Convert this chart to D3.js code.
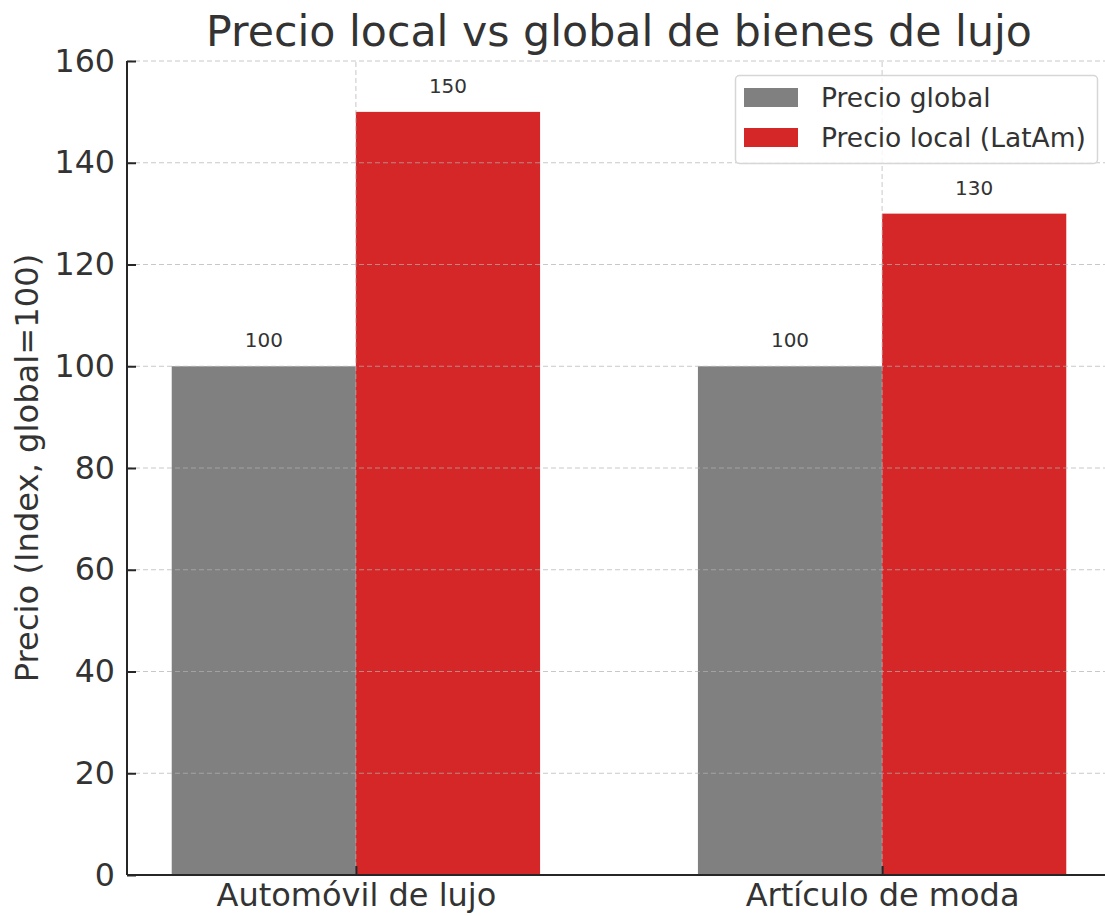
<!DOCTYPE html>
<html>
<head>
<meta charset="utf-8">
<script src="https://cdn.jsdelivr.net/npm/d3@7"></script>
<style>
  html, body { margin: 0; padding: 0; background: #fff; }
  svg { display: block; font-family: "DejaVu Sans", sans-serif; }
</style>
</head>
<body>
<svg id="chart" width="1105" height="916"></svg>
<script>
// Product categories and the two price series (index, global = 100)
const categories = ["Automóvil de lujo", "Artículo de moda"];
const seriesNames = ["Precio global", "Precio local (LatAm)"];
const globalPrices = [100, 100];
const localPrices = [150, 130];
const yTicks = [0, 20, 40, 60, 80, 100, 120, 140, 160];
const colors = ["#808080", "#d62728"];

const W = 1105, H = 916;
const margin = { left: 127, right: -6, top: 61, bottom: 41 };
const svg = d3.select("#chart");

const textColor = "#333333";
const axisColor = "#262626";

// Numeric x positions: category i sits at i, bars have width 0.35
const barW = 0.35;
const x = d3.scaleLinear()
  .domain([-0.435, categories.length - 1 + 0.435])
  .range([margin.left, W - margin.right]);
const y = d3.scaleLinear()
  .domain([0, 160])
  .range([H - margin.bottom, margin.top]);

const series = [globalPrices, localPrices];

// Bars: global to the left of the category centre, local to the right
series.forEach((vals, s) => {
  svg.append("g")
    .selectAll("rect")
    .data(vals)
    .join("rect")
    .attr("x", (d, i) => x(i + (s === 0 ? -barW : 0)))
    .attr("width", x(barW) - x(0))
    .attr("y", d => y(d))
    .attr("height", d => y(0) - y(d))
    .attr("fill", colors[s]);

  // Value labels above each bar
  svg.append("g")
    .selectAll("text")
    .data(vals)
    .join("text")
    .attr("x", (d, i) => x(i + (s === 0 ? -barW / 2 : barW / 2)))
    .attr("y", d => y(d) - 19)
    .attr("text-anchor", "middle")
    .attr("font-size", 20)
    .attr("fill", textColor)
    .text(d => d);
});

// Dashed grid drawn over the bars
const grid = svg.append("g")
  .attr("stroke", "#b0b0b0")
  .attr("stroke-opacity", 0.7)
  .attr("stroke-width", 1)
  .attr("stroke-dasharray", "5,3");
grid.selectAll("line.h")
  .data(yTicks)
  .join("line")
  .attr("class", "h")
  .attr("x1", x.range()[0]).attr("x2", x.range()[1])
  .attr("y1", d => y(d)).attr("y2", d => y(d));
grid.selectAll("line.v")
  .data(categories.map((c, i) => i))
  .join("line")
  .attr("class", "v")
  .attr("x1", d => x(d)).attr("x2", d => x(d))
  .attr("y1", y.range()[0]).attr("y2", y.range()[1]);

// Y axis with inward ticks
const yAxis = svg.append("g")
  .attr("transform", `translate(${margin.left},0)`)
  .call(d3.axisLeft(y).tickValues(yTicks).tickSize(-9).tickPadding(12));
yAxis.select(".domain").attr("stroke", axisColor).attr("stroke-width", 2)
  .attr("d", `M0,${y(0)}V${y(160)}`);
yAxis.selectAll(".tick line").attr("stroke", axisColor).attr("stroke-width", 2);
yAxis.selectAll(".tick text")
  .attr("font-size", 31.7).attr("fill", textColor)
  .attr("font-family", "DejaVu Sans");

// X axis with category labels
const xAxis = svg.append("g")
  .attr("transform", `translate(0,${y(0)})`)
  .call(d3.axisBottom(x)
    .tickValues(categories.map((c, i) => i))
    .tickFormat(i => categories[i])
    .tickSize(-9).tickPadding(8));
xAxis.select(".domain").attr("stroke", axisColor).attr("stroke-width", 2)
  .attr("d", `M${x.range()[0]},0H${x.range()[1]}`);
xAxis.selectAll(".tick line").attr("stroke", axisColor).attr("stroke-width", 2);
xAxis.selectAll(".tick text")
  .attr("font-size", 32).attr("fill", textColor)
  .attr("font-family", "DejaVu Sans");

// Title
svg.append("text")
  .attr("x", 619).attr("y", 46)
  .attr("text-anchor", "middle")
  .attr("font-size", 42.7)
  .attr("fill", textColor)
  .text("Precio local vs global de bienes de lujo");

// Y axis title
svg.append("text")
  .attr("transform", `translate(38,${(y(0) + y(160)) / 2}) rotate(-90)`)
  .attr("text-anchor", "middle")
  .attr("font-size", 32.2)
  .attr("fill", textColor)
  .text("Precio (Index, global=100)");

// Legend
const legend = svg.append("g").attr("transform", "translate(735,75)");
legend.append("rect")
  .attr("x", 0.5).attr("y", 0.5).attr("width", 362).attr("height", 88)
  .attr("rx", 4)
  .attr("fill", "#ffffff").attr("fill-opacity", 0.8)
  .attr("stroke", "#d6d6d6").attr("stroke-width", 1.5);
seriesNames.forEach((name, s) => {
  legend.append("rect")
    .attr("x", 9).attr("y", 13 + s * 40)
    .attr("width", 54).attr("height", 19)
    .attr("fill", colors[s]);
  legend.append("text")
    .attr("x", 86).attr("y", 32 + s * 40)
    .attr("font-size", 26.5)
    .attr("fill", textColor)
    .text(name);
});
</script>
</body>
</html>
